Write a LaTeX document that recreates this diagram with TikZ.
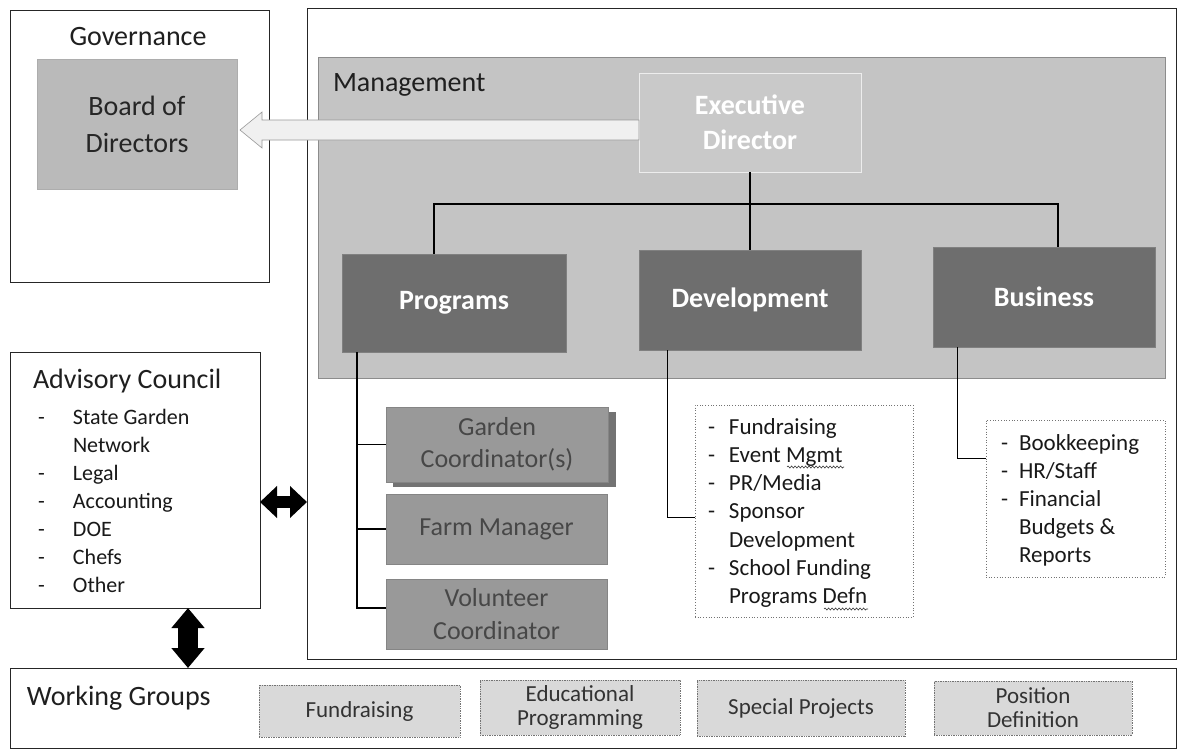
\documentclass[tikz,border=0pt]{standalone}
\usepackage{fontspec}
\setmainfont{Carlito}
\usetikzlibrary{arrows.meta,calc,decorations.pathmorphing}
\tikzset{
  frame/.style={draw=black!85, line width=0.8pt, inner sep=0pt, outer sep=0pt, anchor=north west},
  titletext/.style={inner sep=0pt, outer sep=0pt, text=black!88, font=\fontsize{28}{34}\selectfont},
  boardbox/.style={fill=black!27, draw=black!32, line width=0.5pt, inner sep=0pt, outer sep=0pt, anchor=north west, align=center, text=black!85, font=\fontsize{28}{37}\selectfont},
  mgmtbox/.style={fill=black!23, draw=black!45, line width=0.5pt, inner sep=0pt, outer sep=0pt, anchor=north west},
  execbox/.style={fill=black!21, draw=black!7, line width=0.8pt, inner sep=0pt, outer sep=0pt, anchor=north west, align=center, text=white, font=\bfseries\fontsize{28}{35}\selectfont},
  unitbox/.style={fill=black!57, draw=black!50, line width=0.4pt, inner sep=0pt, outer sep=0pt, anchor=north west, text=white, font=\bfseries\fontsize{28}{34}\selectfont},
  staffbox/.style={fill=black!40, draw=black!48, line width=0.5pt, inner sep=0pt, outer sep=0pt, anchor=north west, align=center, text=black!72, font=\fontsize{26}{32.5}\selectfont},
  listbox/.style={draw=black!55, dotted, line width=0.7pt, inner sep=0pt, outer sep=0pt, anchor=north west},
  listtext/.style={inner sep=0pt, outer sep=0pt, anchor=base west, text=black!90},
  wgbox/.style={fill=black!15, draw=black!55, densely dotted, line width=0.7pt, inner sep=0pt, outer sep=0pt, anchor=north west, align=center, text=black!80, font=\fontsize{23}{24}\selectfont},
  orgline/.style={draw=black, line width=1.5pt},
  thinline/.style={draw=black, line width=1pt},
  squiggle/.style={draw=black!80, line width=0.6pt, decorate, decoration={snake, amplitude=1pt, segment length=3.5pt}},
  bigarrow/.style={fill=black!6, draw=black!40, line width=0.6pt},
  fatarrowh/.style={black, line width=12pt, {Triangle[width=31pt,length=17pt]}-{Triangle[width=31pt,length=17pt]}},
  fatarrowv/.style={black, line width=20pt, {Triangle[width=32pt,length=20pt]}-{Triangle[width=32pt,length=20pt]}}
}
\begin{document}
\begin{tikzpicture}[x=1pt,y=-1pt]
\path[use as bounding box, fill=white] (0,0) rectangle (1180,755);

% ---------- Governance ----------
\node[frame, minimum width=259pt, minimum height=272pt] (gov) at (10,10) {};
\node[titletext, anchor=base] (govtitle) at (138,45) {Governance};
\node[boardbox, minimum width=200pt, minimum height=130pt] (board) at (37,59) {Board of\\Directors};

% ---------- Management ----------
\node[frame, minimum width=869pt, minimum height=651pt] (mframe) at (307,8) {};
\node[mgmtbox, minimum width=847pt, minimum height=321pt] (mgmt) at (318,57) {};
\node[titletext, anchor=base west] (mgmttitle) at (333,91) {Management};

\node[execbox, minimum width=222pt, minimum height=99pt] (exec) at (639,73) {Executive\\Director};

% big light arrow Executive Director -> Board
\coordinate (atip) at ([shift={(3pt,-6pt)}]board.east);
\coordinate (aend) at (exec.west |- atip);
\draw[bigarrow] (atip) -- ++(22,-18) -- ++(0,8) -- ($(aend)+(0,-10)$) -- ($(aend)+(0,10)$) -- ($(atip)+(22,10)$) -- ++(0,8) -- cycle;

\node[unitbox, minimum width=224pt, minimum height=98pt] (prog) at (342,254) {Programs};
\node[unitbox, minimum width=222pt, minimum height=100pt] (dev) at (639,250) {Development};
\node[unitbox, minimum width=222pt, minimum height=100pt] (bus) at (933,247) {Business};

\coordinate (bar) at ($(exec.south)+(0,32)$);
\draw[orgline] (exec.south) -- (bar);
\draw[orgline] ([xshift=-20pt]prog.north) |- (bar) -| ([xshift=14pt]bus.north);
\draw[orgline] (bar) -- (dev.north);

% Programs staff
\fill[black!55] (393,412) rectangle (616,487);
\node[staffbox, minimum width=222pt, minimum height=75pt] (garden) at (386,407) {Garden\\Coordinator(s)};
\node[staffbox, minimum width=221pt, minimum height=70pt] (farm) at (386,494) {Farm Manager};
\node[staffbox, minimum width=221pt, minimum height=70pt] (vol) at (386,579) {Volunteer\\Coordinator};
\coordinate (pstem) at ([xshift=15pt]prog.south west);
\draw[orgline] (pstem) |- (garden.west);
\draw[orgline] (pstem) |- (farm.west);
\draw[orgline] (pstem) |- ([yshift=6pt]vol.west);

% Development list
\node[listbox, minimum width=218pt, minimum height=212pt] (devlist) at (695,405) {};
\node[listtext, font=\fontsize{23}{28.3}\selectfont] (devitems) at (708,434) {\begin{tabular}[t]{@{}p{21pt}@{}l@{}}
-&Fundraising\\
-&Event Mgmt\\
-&PR/Media\\
-&Sponsor\\
 &Development\\
-&School Funding\\
 &Programs Defn
\end{tabular}};
\draw[squiggle] (787,467) -- (844,467);
\draw[squiggle] (824,609) -- (868,609);
\draw[thinline] ([xshift=28pt]dev.south west) |- ([yshift=-6pt]devlist.west);

% Business list
\node[listbox, minimum width=179pt, minimum height=157pt] (buslist) at (986,420) {};
\node[listtext, font=\fontsize{23}{28}\selectfont] (busitems) at (1001,450) {\begin{tabular}[t]{@{}p{18pt}@{}l@{}}
-&Bookkeeping\\
-&HR/Staff\\
-&Financial\\
 &Budgets \&\\
 &Reports
\end{tabular}};
\draw[thinline] ([xshift=24pt]bus.south west) |- ([yshift=40pt]buslist.west);

% ---------- Advisory Council ----------
\node[frame, minimum width=250pt, minimum height=256pt] (adv) at (10,352) {};
\node[titletext, anchor=base west] (advtitle) at (33,388) {Advisory Council};
\node[listtext, font=\fontsize{22}{28}\selectfont] (advitems) at (38,424) {\begin{tabular}[t]{@{}p{35pt}@{}l@{}}
-&State Garden\\
 &Network\\
-&Legal\\
-&Accounting\\
-&DOE\\
-&Chefs\\
-&Other
\end{tabular}};

% ---------- Working Groups ----------
\node[frame, minimum width=1166pt, minimum height=80pt] (wg) at (10,668) {};
\node[titletext, anchor=base west] (wgtitle) at (27,705) {Working Groups};
\node[wgbox, minimum width=201pt, minimum height=52pt] (wg1) at (259,685) {Fundraising};
\node[wgbox, minimum width=200pt, minimum height=55pt] (wg2) at (480,680) {Educational\\Programming};
\node[wgbox, minimum width=208pt, minimum height=56pt] (wg3) at (697,680) {Special Projects};
\node[wgbox, minimum width=198pt, minimum height=54pt] (wg4) at (934,681) {Position\\Definition};

% ---------- black double arrows ----------
\coordinate (harr) at ([yshift=-22pt]adv.east);
\draw[fatarrowh] (harr) -- (mframe.west |- harr);
\coordinate (varr) at ([xshift=53pt]adv.south);
\draw[fatarrowv] (varr) -- (varr |- wg.north);
\end{tikzpicture}
\end{document}
